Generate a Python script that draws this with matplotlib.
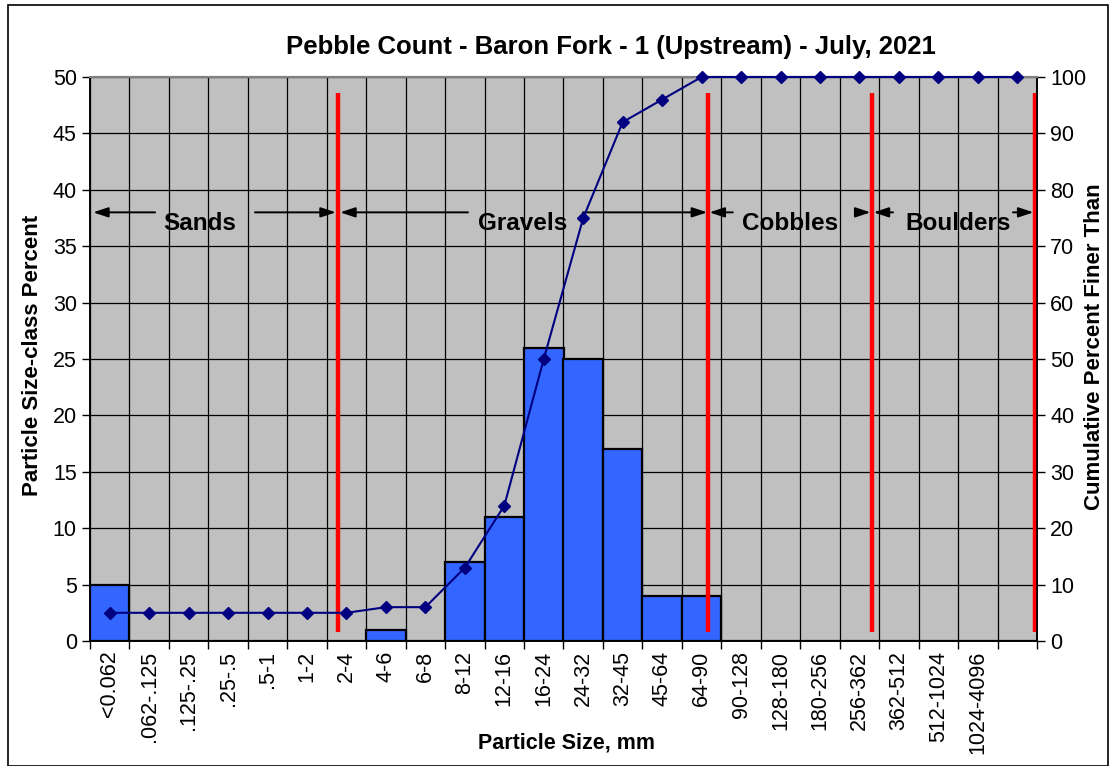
import numpy as np
import matplotlib
matplotlib.use("Agg")
import matplotlib.pyplot as plt
from matplotlib.patches import Rectangle

plt.rcParams['font.family'] = ['Liberation Sans', 'DejaVu Sans']

# size classes (mm) - last column has no label
sizes = ['<0.062', '.062-.125', '.125-.25', '.25-.5', '.5-1', '1-2', '2-4',
         '4-6', '6-8', '8-12', '12-16', '16-24', '24-32', '32-45', '45-64',
         '64-90', '90-128', '128-180', '180-256', '256-362', '362-512',
         '512-1024', '1024-4096', '']
pct_class = [5, 0, 0, 0, 0, 0, 0, 1, 0, 7, 11, 26, 25, 17, 4, 4,
             0, 0, 0, 0, 0, 0, 0, 0]
pct_finer = [5, 5, 5, 5, 5, 5, 5, 6, 6, 13, 24, 50, 75, 92, 96, 100,
             100, 100, 100, 100, 100, 100, 100, 100]

# class boundaries (in category units) and the zone labels between them
bounds = [5.785, 15.16, 19.32, 23.45]
zones = ['Sands', 'Gravels', 'Cobbles', 'Boulders']
zone_text_x = [2.29, 10.47, 17.24, 21.5]
zone_arrows = [(-0.42, 1.15, 3.68, 5.73),
               (5.84, 9.08, 11.99, 15.14),
               (15.2, 15.79, 18.96, 19.28),
               (19.36, 19.85, 22.89, 23.41)]

fig = plt.figure(figsize=(11.1, 7.66), dpi=100)
ax = fig.add_axes([90/1110, 1-641/766, 947/1110, 564/766])
ax2 = ax.twinx()

x = np.arange(len(sizes))
ax.set_facecolor('#c0c0c0')
ax.bar(x, pct_class, width=1.0, color='#3366ff', edgecolor='black',
       linewidth=1.6, zorder=3)

ax.set_xlim(-0.5, len(sizes) - 0.5)
ax.set_ylim(0, 50)
ax.set_yticks(np.arange(0, 51, 5))
ax.set_xticks(np.arange(len(sizes) + 1) - 0.5)
ax.set_xticklabels([])
ax.set_xticks(x, minor=True)
ax.set_xticklabels(sizes, minor=True, rotation=90, fontsize=15.5)
ax.tick_params(axis='x', which='minor', length=0, pad=7)
ax.tick_params(axis='x', which='major', length=6, width=1, direction='out')
ax.tick_params(axis='y', labelsize=15.5, length=6, width=1, direction='out')
ax.grid(True, which='major', color='black', linewidth=0.9, zorder=1)
ax.set_axisbelow(True)

# size-class boundaries
for b in bounds:
    ax.plot([b, b], [0.8, 48.6], color='red', linewidth=3.2, zorder=5,
            solid_capstyle='butt')

arrow_kw = dict(arrowstyle='-|>,head_length=0.9,head_width=0.3',
                color='black', linewidth=1.4, shrinkA=0, shrinkB=0)
for name, tx, (l_tip, l_tail, r_tail, r_tip) in zip(zones, zone_text_x, zone_arrows):
    ax.annotate('', xy=(l_tip, 38), xytext=(l_tail, 38), arrowprops=arrow_kw, zorder=6)
    ax.annotate('', xy=(r_tip, 38), xytext=(r_tail, 38), arrowprops=arrow_kw, zorder=6)
    ax.text(tx, 37.0, name, ha='center', va='center', fontsize=17.5,
            fontweight='bold', zorder=6)

ax2.plot(x, pct_finer, color='#000080', linewidth=1.5, marker='D',
         markersize=6, zorder=4, clip_on=False)
ax2.set_ylim(0, 100)
ax2.set_yticks(np.arange(0, 101, 10))
ax2.tick_params(axis='y', labelsize=15.5, length=6, width=1, direction='out')
ax.set_zorder(ax2.get_zorder() - 1)
ax2.patch.set_visible(False)

for a in (ax, ax2):
    a.spines['top'].set_color('#808080')
    a.spines['top'].set_linewidth(1.5)
    for s in ('left', 'right', 'bottom'):
        a.spines[s].set_linewidth(1.2)

fig.text(0.5 * (283 + 938) / 1110, 1 - 47/766,
         'Pebble Count - Baron Fork - 1 (Upstream) - July, 2021',
         ha='center', va='center', fontsize=18.5, fontweight='bold')
fig.text(33/1110, 1 - 355/766, 'Particle Size-class Percent', rotation=90,
         ha='center', va='center', fontsize=16, fontweight='bold')
fig.text(1095/1110, 1 - 347/766, 'Cumulative Percent Finer Than', rotation=90,
         ha='center', va='center', fontsize=16, fontweight='bold')
fig.text(566/1110, 1 - 743/766, 'Particle Size, mm', ha='center',
         va='center', fontsize=15.5, fontweight='bold')

fig.patches.append(Rectangle((8/1110, 0), 1100/1110, 761/766,
                             transform=fig.transFigure, fill=False,
                             edgecolor='black', linewidth=1.2))

fig.savefig('out.png', dpi=100)
